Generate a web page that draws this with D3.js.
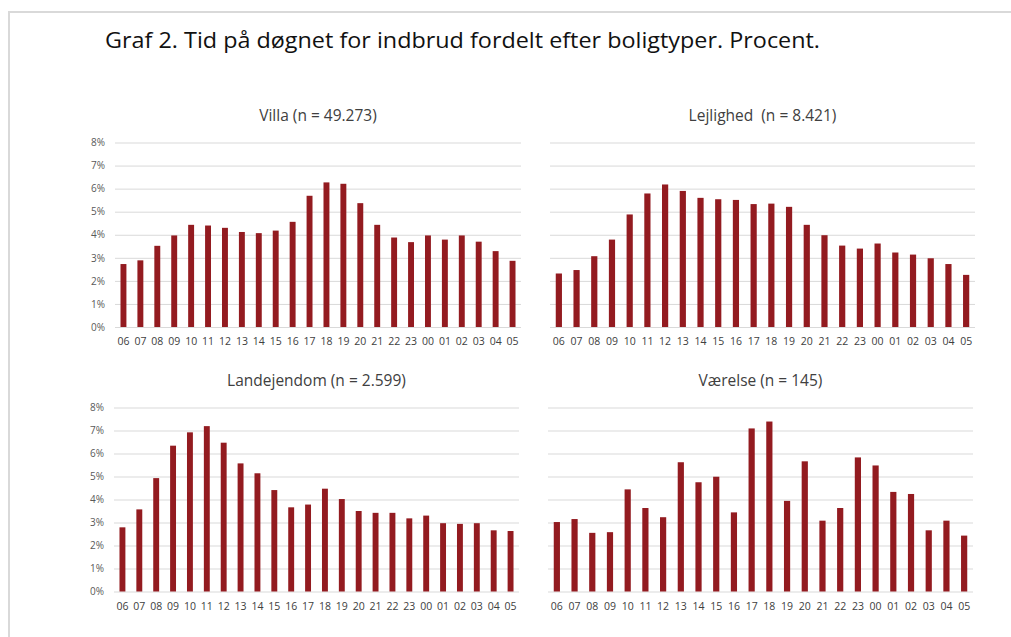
<!DOCTYPE html>
<html>
<head>
<meta charset="utf-8">
<style>
  body { margin: 0; background: white; }
  svg { display: block; }
  .grid line { stroke: #d9d9d9; stroke-width: 1px; }
  .grid text { font: 10px "Open Sans", sans-serif; fill: #595959; }
  .xaxis text { font: 10.5px "Open Sans", sans-serif; fill: #404040; }
  .ptitle { font: 15.5px "Open Sans", sans-serif; fill: #404040; white-space: pre; }
  .main { font: 21px "Open Sans", sans-serif; fill: #111; }
</style>
</head>
<body>
<svg width="1011" height="637"></svg>
<script src="https://cdn.jsdelivr.net/npm/d3@7"></script>
<script>

var hours = ["06","07","08","09","10","11","12","13","14","15","16","17",
             "18","19","20","21","22","23","00","01","02","03","04","05"];

var yTicks = [0, 1, 2, 3, 4, 5, 6, 7, 8];

var villa = [2.73, 2.89, 3.52, 3.97, 4.43, 4.40, 4.30, 4.12, 4.07, 4.18, 4.56, 5.69,
             6.27, 6.21, 5.37, 4.43, 3.88, 3.68, 3.97, 3.79, 3.97, 3.70, 3.29, 2.87];

var lejlighed = [2.32, 2.47, 3.07, 3.79, 4.88, 5.79, 6.18, 5.90, 5.60, 5.54, 5.51, 5.33,
                 5.35, 5.21, 4.43, 3.98, 3.53, 3.40, 3.62, 3.23, 3.14, 2.98, 2.73, 2.26];

var landejendom = [2.79, 3.57, 4.93, 6.34, 6.92, 7.19, 6.47, 5.57, 5.14, 4.41, 3.66, 3.78,
                   4.47, 4.02, 3.50, 3.42, 3.42, 3.18, 3.30, 2.97, 2.94, 2.97, 2.66, 2.63];

var vaerelse = [3.02, 3.15, 2.55, 2.58, 4.44, 3.63, 3.23, 5.62, 4.75, 4.99, 3.44, 7.09,
                7.39, 3.94, 5.66, 3.08, 3.63, 5.83, 5.48, 4.33, 4.24, 2.66, 3.08, 2.43];

var svg = d3.select("svg");

// light frame round the figure
svg.append("path")
    .attr("d", "M9,637 V12 H1011")
    .attr("fill", "none")
    .attr("stroke", "#d9d9d9")
    .attr("stroke-width", 2);

svg.append("text")
    .attr("class", "main")
    .attr("x", 105)
    .attr("y", 48)
    .attr("textLength", 715)
    .attr("lengthAdjust", "spacingAndGlyphs")
    .text("Graf 2. Tid på døgnet for indbrud fordelt efter boligtyper. Procent.");

function panel(values, title, x0, x1, top, bottom, showY) {
  var g = svg.append("g");

  var x = d3.scaleBand()
      .domain(hours)
      .range([x0, x1])
      .paddingInner(0.65)
      .paddingOuter(0.325);

  var y = d3.scaleLinear()
      .domain([0, 8])
      .range([bottom, top]);

  var grid = g.append("g")
      .attr("class", "grid")
      .attr("transform", "translate(" + x0 + ",0)")
      .call(d3.axisLeft(y)
          .tickValues(yTicks)
          .tickSize(-(x1 - x0))
          .tickPadding(10)
          .tickFormat(function(d) { return showY ? d + "%" : ""; }));
  grid.select(".domain").remove();

  g.selectAll(".bar")
    .data(values)
    .enter().append("rect")
      .attr("class", "bar")
      .attr("x", function(d, i) { return x(hours[i]); })
      .attr("width", x.bandwidth())
      .attr("y", function(d) { return y(d); })
      .attr("height", function(d) { return bottom - y(d); })
      .attr("fill", "#931b20");

  var xa = g.append("g")
      .attr("class", "xaxis")
      .attr("transform", "translate(0," + bottom + ")")
      .call(d3.axisBottom(x).tickSize(0).tickPadding(11));
  xa.select(".domain").remove();

  g.append("text")
      .attr("class", "ptitle")
      .attr("x", (x0 + x1) / 2)
      .attr("y", top - 22)
      .attr("text-anchor", "middle")
      .text(title);
}

panel(villa, "Villa (n = 49.273)", 115, 521, 142.5, 327, true);
panel(lejlighed, "Lejlighed  (n = 8.421)", 550, 975, 142.5, 327, false);
panel(landejendom, "Landejendom (n = 2.599)", 114, 519, 407.5, 591.5, true);
panel(vaerelse, "Værelse (n = 145)", 548, 973, 407.5, 591.5, false);

</script>
</body>
</html>
